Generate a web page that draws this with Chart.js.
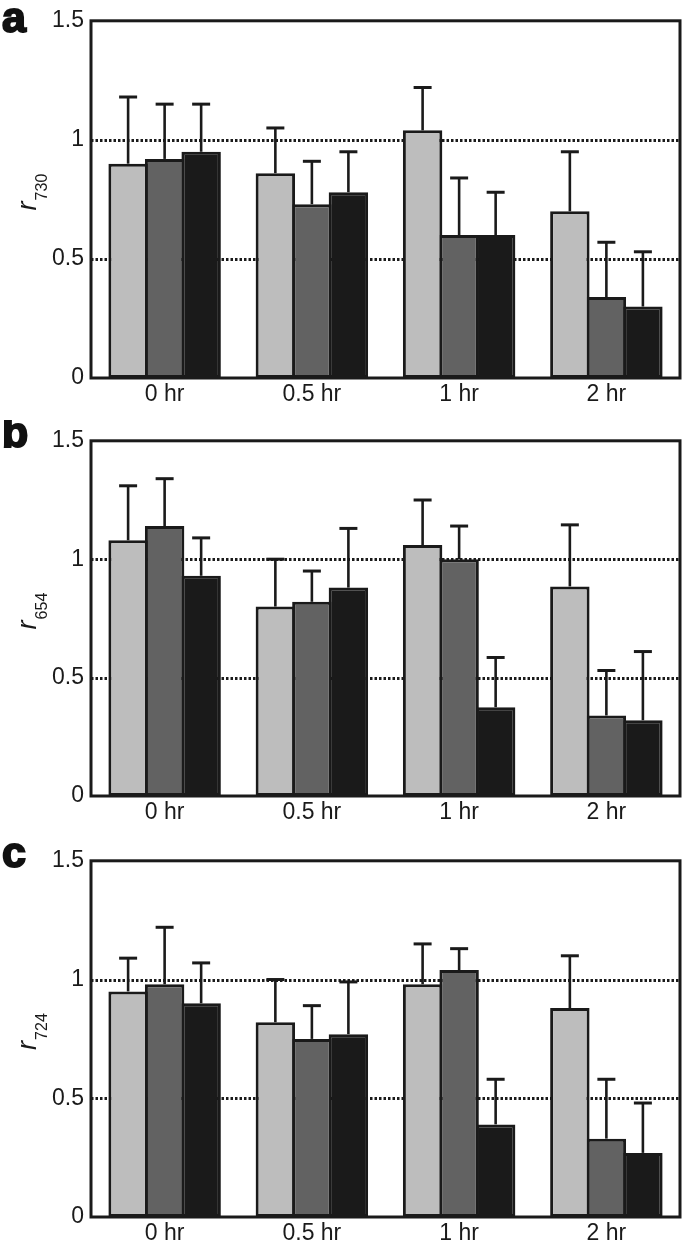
<!DOCTYPE html>
<html>
<head>
<meta charset="utf-8">
<script src="https://cdn.jsdelivr.net/npm/chart.js@4"></script>
<style>
  html, body { margin: 0; padding: 0; background: #fff; overflow: hidden; }
  body { width: 685px; height: 1246px; position: relative; }
  .panel { position: absolute; left: 0; width: 685px; }
  canvas { display: block; }
</style>
</head>
<body>
<div class="panel" style="top:0px"><canvas id="ca" width="685" height="420"></canvas></div>
<div class="panel" style="top:420px"><canvas id="cb" width="685" height="420"></canvas></div>
<div class="panel" style="top:840px"><canvas id="cc" width="685" height="406"></canvas></div>
<script>
// ---- Data ----
const categories = ["0 hr", "0.5 hr", "1 hr", "2 hr"];
const yTickLabels = ["0", "0.5", "1", "1.5"];
const refLines = [1, 0.5];

// Panel a: r730
const a_light = [0.90, 0.86, 1.04, 0.70];
const a_dark  = [0.92, 0.73, 0.60, 0.34];
const a_black = [0.95, 0.78, 0.60, 0.30];
const a_light_err = [0.28, 0.19, 0.18, 0.25];
const a_dark_err  = [0.23, 0.18, 0.24, 0.23];
const a_black_err = [0.20, 0.17, 0.18, 0.23];

// Panel b: r654
const b_light = [1.08, 0.80, 1.06, 0.885];
const b_dark  = [1.14, 0.82, 1.00, 0.34];
const b_black = [0.93, 0.88, 0.375, 0.32];
const b_light_err = [0.23, 0.20, 0.19, 0.26];
const b_dark_err  = [0.20, 0.13, 0.14, 0.19];
const b_black_err = [0.16, 0.25, 0.21, 0.29];

// Panel c: r724
const c_light = [0.95, 0.82, 0.98, 0.88];
const c_dark  = [0.98, 0.75, 1.04, 0.33];
const c_black = [0.90, 0.77, 0.39, 0.27];
const c_light_err = [0.14, 0.18, 0.17, 0.22];
const c_dark_err  = [0.24, 0.14, 0.09, 0.25];
const c_black_err = [0.17, 0.22, 0.19, 0.21];

// ---- Styles ----
const FONT = '"Liberation Sans", Arial, Helvetica, sans-serif';
const INK = '#1a1a1a';
const fills = ['#bdbdbd', '#626262', '#1a1a1a'];

const framePlugin = {
  id: 'framePlugin',
  beforeDatasetsDraw(chart) {
    const {ctx, chartArea: ca, scales: {y}} = chart;
    ctx.save();
    ctx.strokeStyle = INK;
    ctx.lineWidth = 3;
    ctx.setLineDash([2.5, 2]);
    refLines.forEach(v => {
      const py = Math.round(y.getPixelForValue(v)) + 0.5;
      ctx.beginPath();
      ctx.moveTo(ca.left, py);
      ctx.lineTo(ca.right, py);
      ctx.stroke();
    });
    ctx.restore();
  },
  afterDatasetsDraw(chart, args, opts) {
    const {ctx, chartArea: ca, scales: {y}} = chart;
    ctx.save();
    // error bars (upper only)
    ctx.strokeStyle = INK;
    chart.data.datasets.forEach((ds, di) => {
      const meta = chart.getDatasetMeta(di);
      meta.data.forEach((bar, i) => {
        const top = y.getPixelForValue(ds.data[i]);
        const cap = y.getPixelForValue(ds.data[i] + ds.errors[i]);
        ctx.lineWidth = 2.6;
        ctx.beginPath();
        ctx.moveTo(bar.x, top);
        ctx.lineTo(bar.x, cap);
        ctx.stroke();
        ctx.lineWidth = 3;
        ctx.beginPath();
        ctx.moveTo(bar.x - 9, cap);
        ctx.lineTo(bar.x + 9, cap);
        ctx.stroke();
      });
    });
    // frame
    ctx.lineWidth = 3;
    ctx.strokeRect(ca.left, ca.top, ca.right - ca.left, ca.bottom - ca.top);
    ctx.restore();
  },
  afterDraw(chart, args, opts) {
    const {ctx, chartArea: ca} = chart;
    ctx.save();
    // panel letter
    ctx.fillStyle = '#111';
    ctx.strokeStyle = '#111';
    ctx.lineWidth = 2;
    ctx.font = 'bold 43px ' + FONT;
    ctx.textAlign = 'left';
    ctx.textBaseline = 'alphabetic';
    ctx.fillText(opts.letter, 2, opts.letterY);
    ctx.strokeText(opts.letter, 2, opts.letterY);
    // y axis title: r with subscript, rotated
    const cy = (ca.top + ca.bottom) / 2 - 8;
    ctx.translate(36, cy + 19);
    ctx.rotate(-Math.PI / 2);
    ctx.fillStyle = INK;
    ctx.font = 'italic 27px ' + FONT;
    ctx.fillText('r', 0, 0);
    const w = ctx.measureText('r').width;
    ctx.font = '16px ' + FONT;
    ctx.fillText(opts.sub, w + 1, 11);
    ctx.restore();
  }
};

function makeChart(id, letter, letterY, sub, light, dark, black, le, de, be, padTop, xAxisH) {
  const mk = (label, data, errors, color) => ({
    label, data, errors,
    backgroundColor: color,
    borderColor: INK,
    borderWidth: 3,
    borderSkipped: false,
    inflateAmount: 0,
    barPercentage: 1.08,
    categoryPercentage: 0.744
  });
  return new Chart(document.getElementById(id), {
    type: 'bar',
    data: {
      labels: categories,
      datasets: [
        mk('light', light, le, fills[0]),
        mk('dark', dark, de, fills[1]),
        mk('black', black, be, fills[2])
      ]
    },
    options: {
      responsive: false,
      animation: false,
      devicePixelRatio: 1,
      layout: { padding: { top: padTop, right: 5, left: 0, bottom: 0 } },
      plugins: {
        legend: { display: false },
        tooltip: { enabled: false },
        framePlugin: { letter, letterY, sub }
      },
      scales: {
        x: {
          grid: { display: false, drawTicks: false },
          border: { display: false },
          ticks: { color: INK, font: { family: FONT, size: 23 }, padding: 3, maxRotation: 0 },
          afterFit(scale) { scale.height = xAxisH; }
        },
        y: {
          min: 0, max: 1.5,
          grid: { display: false, drawTicks: false },
          border: { display: false },
          ticks: {
            stepSize: 0.5,
            color: INK,
            font: { family: FONT, size: 23 },
            padding: 7,
            callback: (v) => yTickLabels[Math.round(v / 0.5)]
          },
          afterFit(scale) { scale.width = 91; }
        }
      }
    },
    plugins: [framePlugin]
  });
}

makeChart('ca', 'a', 32, '730', a_light, a_dark, a_black, a_light_err, a_dark_err, a_black_err, 14, 42);
makeChart('cb', 'b', 27, '654', b_light, b_dark, b_black, b_light_err, b_dark_err, b_black_err, 13, 44);
makeChart('cc', 'c', 27, '724', c_light, c_dark, c_black, c_light_err, c_dark_err, c_black_err, 13, 29);
</script>
</body>
</html>
